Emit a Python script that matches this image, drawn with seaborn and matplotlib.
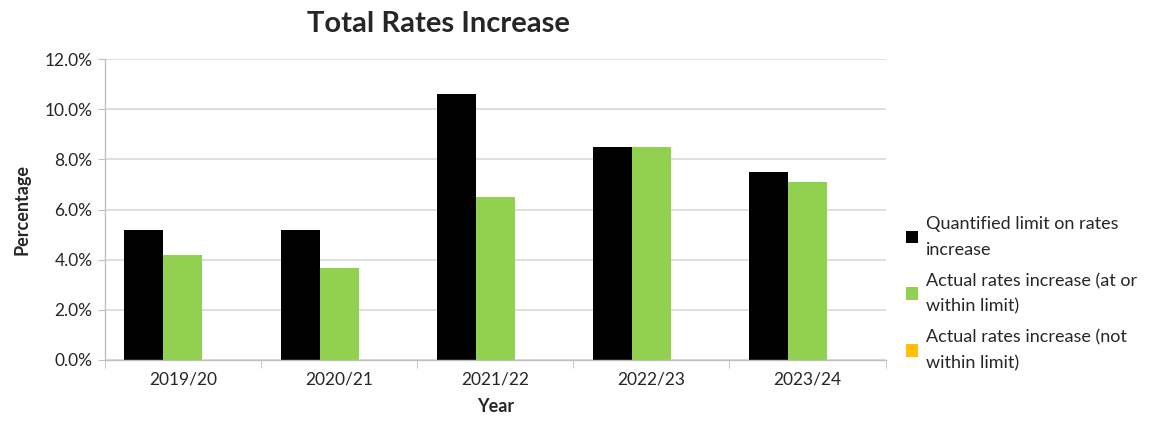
import matplotlib
matplotlib.use("Agg")
import matplotlib.pyplot as plt
import seaborn as sns
import pandas as pd
import numpy as np
from matplotlib.ticker import FuncFormatter, FixedLocator

years = ["2019/20", "2020/21", "2021/22", "2022/23", "2023/24"]
limit = [5.2, 5.2, 10.6, 8.5, 7.5]
actual_within = [4.2, 3.65, 6.5, 8.5, 7.1]
actual_not_within = [0, 0, 0, 0, 0]
series = ["Quantified limit on rates\nincrease",
          "Actual rates increase (at or\nwithin limit)",
          "Actual rates increase (not\nwithin limit)"]
colors = ["#000000", "#92d050", "#ffc000"]

df = pd.DataFrame({
    "Year": years * 3,
    "Series": [series[0]] * 5 + [series[1]] * 5 + [series[2]] * 5,
    "Value": limit + actual_within + actual_not_within,
})

sns.set_style("white")
plt.rcParams['font.family'] = ['Lato', 'DejaVu Sans']

fig = plt.figure(figsize=(11.53, 4.28), dpi=100)
ax = fig.add_axes([0.091, 0.159, 0.677, 0.703])

sns.barplot(data=df, x="Year", y="Value", hue="Series", palette=colors,
            width=0.75, ax=ax, saturation=1, legend=True, edgecolor="none")

ax.set_ylim(0, 12)
ax.set_xlim(-0.5, 4.5)
ax.set_yticks(np.arange(0, 12.01, 2))
ax.yaxis.set_major_formatter(FuncFormatter(lambda v, p: f"{v:.1f}%"))
ax.yaxis.grid(True, color="#d9d9d9", linewidth=1.2)
ax.set_axisbelow(True)
for s in ["top", "right"]:
    ax.spines[s].set_visible(False)
for s in ["left", "bottom"]:
    ax.spines[s].set_color("#bfbfbf")
    ax.spines[s].set_linewidth(1)

ax.tick_params(axis="y", which="major", length=5, color="#bfbfbf", labelsize=12.5, pad=4, left=True)
ax.tick_params(axis="x", which="major", length=0, labelsize=12.5, pad=8)
ax.xaxis.set_minor_locator(FixedLocator(np.arange(-0.5, 4.51, 1)))
ax.tick_params(axis="x", which="minor", length=6, color="#bfbfbf", bottom=True)

ax.set_xlabel("Year", fontsize=13, fontweight="bold", labelpad=8)
ax.set_ylabel("Percentage", fontsize=13, fontweight="bold", labelpad=10)

fig.text(0.38, 0.945, "Total Rates Increase", ha="center", va="center",
         fontsize=21, fontweight="bold")

leg = ax.legend(loc="center left", bbox_to_anchor=(1.005, 0.22), frameon=False,
                fontsize=13, handlelength=0.7, handleheight=0.7,
                handletextpad=0.4, labelspacing=0.85)
for t in leg.get_texts():
    t.set_linespacing(1.7)

fig.savefig("out.png", dpi=100)
